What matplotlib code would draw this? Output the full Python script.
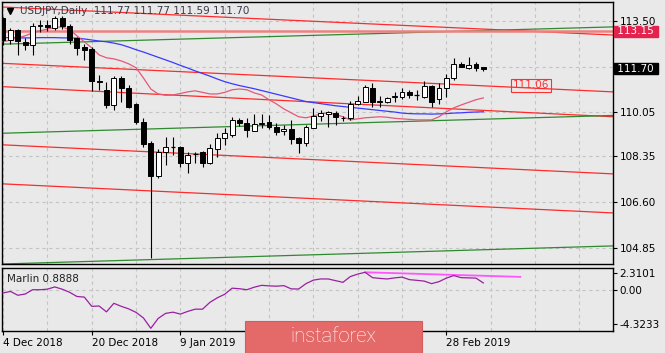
import matplotlib
matplotlib.use("Agg")
import matplotlib.pyplot as plt
from matplotlib.patches import Rectangle
import matplotlib.transforms as mtransforms

# ---------------- data ----------------
opens = [113.63, 112.79, 113.18, 112.72, 112.60, 113.33, 113.38, 113.25, 113.63, 113.33,
         112.87, 112.53, 112.45, 111.23, 110.89, 110.31, 111.34, 110.96, 110.35, 109.66,
         108.86, 107.60, 108.52, 108.71, 108.71, 108.10, 108.45, 108.52, 108.10, 108.63,
         109.05, 109.17, 109.74, 109.63, 109.32, 109.59, 109.66, 109.47, 109.32, 109.40,
         109.05, 108.86, 109.44, 109.89, 109.97, 110.01, 109.82, 109.80, 110.35, 110.43,
         110.96, 110.43, 110.43, 110.62, 110.62, 110.81, 110.69, 110.62, 111.04, 110.54,
         110.96, 111.34, 111.88, 111.72, 111.88, 111.77]
highs = [113.67, 113.25, 113.22, 112.87, 113.44, 113.56, 113.55, 113.70, 113.70, 113.40,
         112.91, 112.64, 112.53, 111.46, 111.19, 111.42, 111.40, 111.07, 110.40, 109.82,
         108.95, 108.64, 109.09, 109.09, 108.75, 108.52, 108.52, 108.55, 108.82, 109.24,
         109.44, 109.86, 109.82, 109.82, 109.97, 109.97, 109.93, 109.63, 109.55, 109.74,
         109.09, 109.55, 110.20, 110.12, 110.08, 110.08, 109.89, 110.47, 110.66, 111.08,
         111.15, 110.66, 110.62, 110.81, 110.96, 110.89, 110.89, 111.23, 111.08, 111.15,
         111.50, 112.10, 111.95, 112.14, 111.95, 111.77]
lows = [112.60, 112.64, 112.22, 112.41, 112.22, 113.10, 113.14, 113.18, 113.20, 112.64,
        112.22, 112.03, 110.85, 110.89, 110.20, 110.12, 110.43, 110.20, 109.58, 108.71,
        104.47, 107.53, 108.00, 108.40, 107.95, 107.72, 108.10, 107.95, 108.05, 108.33,
        108.79, 109.09, 109.50, 109.09, 109.32, 109.44, 109.40, 109.17, 109.17, 108.82,
        108.48, 108.75, 109.44, 109.70, 109.47, 109.55, 109.70, 109.74, 110.31, 110.43,
        110.24, 110.24, 110.40, 110.43, 110.54, 110.58, 110.51, 110.58, 110.24, 110.35,
        110.62, 111.27, 111.80, 111.69, 111.61, 111.59]
closes = [112.79, 113.18, 112.76, 112.58, 113.33, 113.37, 113.27, 113.63, 113.33, 112.79,
          112.49, 112.41, 111.23, 111.19, 110.31, 111.34, 110.96, 110.24, 109.66, 108.82,
          107.60, 108.52, 108.71, 108.71, 108.10, 108.40, 108.45, 108.10, 108.67, 109.05,
          109.24, 109.74, 109.63, 109.36, 109.59, 109.62, 109.47, 109.28, 109.38, 109.01,
          108.86, 109.47, 109.89, 110.01, 110.05, 109.86, 109.80, 110.35, 110.47, 111.00,
          110.43, 110.45, 110.58, 110.64, 110.81, 110.69, 110.69, 111.04, 110.43, 110.96,
          111.34, 111.88, 111.76, 111.84, 111.72, 111.70]

ma_slow = [112.88, 112.88, 112.87, 112.87, 112.87, 112.88, 112.88, 112.88, 112.87, 112.87,
           112.86, 112.83, 112.79, 112.75, 112.72, 112.67, 112.61, 112.52, 112.42, 112.33,
           112.23, 112.13, 112.03, 111.93, 111.82, 111.72, 111.61, 111.51, 111.41, 111.30,
           111.20, 111.12, 111.05, 110.99, 110.93, 110.86, 110.79, 110.72, 110.65, 110.58,
           110.51, 110.44, 110.40, 110.36, 110.32, 110.28, 110.25, 110.22, 110.19, 110.16,
           110.13, 110.10, 110.07, 110.04, 110.00, 109.98, 109.97, 109.97, 109.96, 109.97,
           109.98, 110.00, 110.01, 110.03, 110.04, 110.05]
ma_fast = [112.72, 112.79, 112.87, 112.95, 113.06, 113.14, 113.21, 113.27, 113.29, 113.18,
           112.95, 112.72, 112.49, 112.22, 112.11, 112.07, 111.99, 111.88, 111.73, 111.34,
           110.92, 110.73, 110.68, 110.69, 110.75, 110.81, 110.85, 110.79, 110.73, 110.73,
           110.79, 110.89, 110.92, 110.89, 110.77, 110.69, 110.51, 110.35, 110.16, 110.01,
           109.86, 109.82, 109.89, 109.97, 110.01, 109.95, 109.86, 109.74, 109.78, 109.82,
           109.84, 109.86, 109.84, 109.80, 109.78, 109.76, 109.74, 109.74, 109.74, 109.86,
           110.05, 110.20, 110.31, 110.41, 110.51, 110.58]

marlin = [-0.34, -0.13, -0.63, -0.47, 0.09, 0.09, 0.16, 0.45, 0.16, -0.24,
          -0.79, -0.87, -2.07, -2.03, -2.79, -1.68, -2.07, -2.40, -2.86, -3.58,
          -4.93, -3.64, -2.99, -2.83, -3.08, -2.73, -2.44, -2.44, -1.55, -0.96,
          -0.50, 0.29, 0.22, 0.09, 0.42, 0.66, 0.59, 0.55, 0.62, 0.20,
          0.18, 0.88, 1.34, 1.49, 1.49, 1.27, 1.05, 1.80, 2.12, 2.36,
          1.66, 1.56, 1.49, 1.63, 1.73, 1.40, 1.31, 1.21, 0.88, 1.14,
          1.60, 1.93, 1.66, 1.63, 1.60, 0.97]
marlin_signal_x = [49, 70]
marlin_signal_y = [2.36, 1.76]

# trend / channel lines: (price at left edge, price at right edge)
line_x = [-0.14, 82.5]
red_lines = [(114.05, 112.98), (111.90, 110.81), (111.01, 109.86),
             (108.79, 107.68), (107.30, 106.19)]
green_lines = [(112.63, 113.29), (109.23, 109.91), (104.24, 104.93)]
hline_level = 113.15

price_ticks = [113.50, 110.05, 108.35, 106.60, 104.85]
price_grid = [113.50, 111.775, 110.05, 108.35, 106.60, 104.85]
date_ticks = [0, 12, 24, 36, 48, 60]
date_labels = ["4 Dec 2018", "20 Dec 2018", "9 Jan 2019", "", "", "28 Feb 2019"]
marlin_ticks = [2.3101, 0.0, -4.3233]
marlin_tick_labels = ["2.3101", "0.00", "-4.3233"]
title_text = "USDJPY,Daily  111.77 111.77 111.59 111.70"
last_price = 111.70
line_label_price = 111.06

# ---------------- figure ----------------
W, H = 665, 353
BG = "#e9e9e9"
fig = plt.figure(figsize=(W / 100, H / 100), dpi=100, facecolor=BG)
plt.rcParams['font.family'] = ['DejaVu Sans']

def fr(x0, y0, x1, y1):
    return [x0 / W, 1 - y1 / H, (x1 - x0) / W, (y1 - y0) / H]

ax = fig.add_axes(fr(2, 2, 612.5, 264))
axl = fig.add_axes(fr(2, 267.5, 612.5, 331))
for a in (ax, axl):
    a.set_facecolor(BG)
    for s in a.spines.values():
        s.set_color("black")
        s.set_linewidth(1.0)

XL = (-0.14, 82.48)
ax.set_xlim(*XL)
ax.set_ylim(104.24, 114.24)
axl.set_xlim(*XL)
axl.set_ylim(-5.28, 2.98)

FS = 7.5
GRID = dict(color="#c4c4c4", lw=0.8, ls=(0, (3, 3)), zorder=0.5)
for g in range(0, 84, 6):
    ax.axvline(g, **GRID)
    axl.axvline(g, **GRID)
for p in price_grid:
    ax.axhline(p, **GRID)
axl.axhline(0, **GRID)

# channel lines
for (p0, p1) in red_lines:
    ax.plot(line_x, [p0, p1], color="#ff2a2a", lw=0.9, zorder=2)
for (p0, p1) in green_lines:
    ax.plot(line_x, [p0, p1], color="#2f8a2f", lw=0.9, zorder=2)
ax.axhline(hline_level, color="#ee8080", lw=1.8, zorder=2)

idx = list(range(len(opens)))
ax.plot(idx, ma_slow, color="#3a3aff", lw=0.9, zorder=3)
ax.plot(idx, ma_fast, color="#e4587a", lw=0.9, zorder=3)

# candles
bw = 0.66
for i in idx:
    o, h, l, c = opens[i], highs[i], lows[i], closes[i]
    ax.vlines(i, l, h, color="black", lw=0.8, zorder=4)
    if abs(c - o) < 0.015:
        ax.hlines(o, i - bw / 2, i + bw / 2, color="black", lw=0.9, zorder=5)
    else:
        fc = "white" if c > o else "black"
        ax.add_patch(Rectangle((i - bw / 2, min(o, c)), bw, abs(c - o),
                               facecolor=fc, edgecolor="black", lw=0.7, zorder=5))

# axis ticks
ax.yaxis.tick_right()
ax.set_yticks(price_ticks)
ax.set_yticklabels([f"{p:.2f}" for p in price_ticks], fontsize=FS)
ax.tick_params(axis="y", direction="out", length=3, width=0.8, pad=2, colors="black")
ax.set_xticks([])

axl.yaxis.tick_right()
axl.set_yticks(marlin_ticks)
axl.set_yticklabels(marlin_tick_labels, fontsize=FS)
axl.tick_params(axis="y", direction="out", length=3, width=0.8, pad=2)
axl.set_xticks(date_ticks)
axl.set_xticklabels(date_labels, fontsize=FS, ha="left")
axl.tick_params(axis="x", direction="out", length=3, width=0.8, pad=2)

# price boxes on right axis
trans = mtransforms.blended_transform_factory(ax.transAxes, ax.transData)
ax.text(1.003, hline_level - 0.02, " 113.15 ", transform=trans, fontsize=FS, color="white",
        va="center", ha="left", zorder=10, clip_on=False,
        bbox=dict(boxstyle="square,pad=0.05", fc="#e3234e", ec="#e3234e"))
ax.text(1.003, last_price, " 111.70 ", transform=trans, fontsize=FS, color="white",
        va="center", ha="left", zorder=10, clip_on=False,
        bbox=dict(boxstyle="square,pad=0.05", fc="black", ec="black"))
ax.text(69.0, line_label_price, "111.06", fontsize=FS, color="#ff3030",
        va="center", ha="left", zorder=6,
        bbox=dict(boxstyle="square,pad=0.15", fc="none", ec="#ff3030", lw=0.8))

# title
fig.text(20 / W, 1 - 11 / H, title_text, fontsize=FS, color="#3a3a4a", va="center", ha="left")
fig.lines.append(plt.Line2D([10 / W], [1 - 11 / H], marker="v", color="black",
                            markersize=4.5, transform=fig.transFigure))

# lower panel
axl.plot(idx, marlin, color="#9a1fa3", lw=0.9, zorder=3)
axl.plot(marlin_signal_x, marlin_signal_y, color="#ff55ff", lw=1.3, zorder=2)
axl.text(0.008, 0.82, "Marlin 0.8888", transform=axl.transAxes, fontsize=FS,
         color="#222222", va="center", ha="left")

# banner
fig.patches.append(Rectangle((245 / W, 0), (422 - 245) / W, (353 - 321) / H,
                             transform=fig.transFigure, facecolor="#e46a6a",
                             edgecolor="#d45c5c", lw=0.8, zorder=20))
fig.text(333 / W, 1 - 337 / H, "instaforex", fontsize=14.5, color="white",
         family="Roboto", weight="light", ha="center", va="center", zorder=21)

fig.savefig("out.png", dpi=100, facecolor=BG)
